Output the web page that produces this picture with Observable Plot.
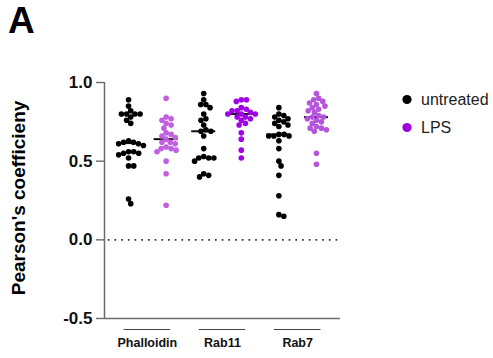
<!DOCTYPE html>
<html><head><meta charset="utf-8">
<script src="https://cdn.jsdelivr.net/npm/d3@7"></script>
<script src="https://cdn.jsdelivr.net/npm/@observablehq/plot@0.6"></script>
<style>
body{margin:0;background:#fff;}
#wrap{position:relative;width:493px;height:358px;}
#overlay{position:absolute;left:0;top:0;pointer-events:none;}
svg text{font-family:"Liberation Sans",Arial,sans-serif;}
#chart g[aria-label^="y-axis"] text{font-size:17px;font-weight:bold;fill:#111;}
#chart g[aria-label^="x-axis"] text{font-size:12.5px;font-weight:bold;fill:#111;}
#chart g[aria-label^="y-axis"] line,#chart g[aria-label^="y-axis"] path{stroke:#6b6b6b;stroke-width:1.4px;}
</style></head><body>
<div id="wrap"><div id="chart"></div>
<svg id="overlay" width="493" height="358">
  <text x="8" y="33" font-size="37" font-weight="bold" fill="#000">A</text>
  <text transform="translate(25,198) rotate(-90)" text-anchor="middle" font-size="19" font-weight="bold" fill="#000">Pearson's coefficieny</text>
  <circle cx="407" cy="99.5" r="4.6" fill="#000"></circle>
  <text x="421" y="104.5" font-size="16" fill="#222">untreated</text>
  <circle cx="407" cy="127.5" r="4.6" fill="#a000e0"></circle>
  <text x="421" y="132.5" font-size="16" fill="#222">LPS</text>
</svg></div>
<script>
const groups = ["Phalloidin", "Rab11", "Rab7"];
const treatments = ["untreated", "LPS"];
const untreatedColor = "#000000";
const lpsColors = ["#c060e0", "#a100e6", "#b455dc"];

const phalloidinUntreated = [0.89,0.85,0.82,0.80,0.80,0.80,0.80,0.78,0.76,0.74,0.63,0.62,0.62,0.61,0.61,0.60,0.56,0.56,0.55,0.55,0.54,0.52,0.47,0.47,0.26,0.23];
const phalloidinLPS = [0.90,0.78,0.77,0.76,0.74,0.73,0.71,0.68,0.67,0.66,0.65,0.64,0.62,0.62,0.61,0.59,0.58,0.58,0.57,0.56,0.50,0.42,0.22];
const rab11Untreated = [0.93,0.89,0.86,0.86,0.84,0.80,0.77,0.76,0.73,0.70,0.69,0.69,0.66,0.58,0.53,0.52,0.52,0.52,0.50,0.42,0.41,0.40];
const rab11LPS = [0.89,0.89,0.88,0.84,0.83,0.82,0.82,0.81,0.80,0.80,0.80,0.78,0.78,0.77,0.76,0.74,0.73,0.68,0.64,0.57,0.52];
const rab7Untreated = [0.84,0.80,0.79,0.78,0.77,0.76,0.75,0.74,0.73,0.72,0.67,0.67,0.66,0.66,0.66,0.63,0.58,0.50,0.47,0.41,0.28,0.16,0.15];
const rab7LPS = [0.93,0.90,0.89,0.88,0.87,0.86,0.85,0.84,0.83,0.82,0.81,0.79,0.78,0.78,0.77,0.76,0.75,0.74,0.72,0.71,0.71,0.70,0.69,0.55,0.48];
const yTicks = [-0.5, 0, 0.5, 1.0];

const series = [[phalloidinUntreated, phalloidinLPS],[rab11Untreated, rab11LPS],[rab7Untreated, rab7LPS]];

// layout
const W = 493, H = 358, mL = 104, mR = 153, mT = 82, mB = 40;
const xDomain = [-0.64, 5.64], yDomain = [-0.5, 1];
const ppx = (W - mL - mR) / (xDomain[1] - xDomain[0]);
const ppy = (H - mT - mB) / (yDomain[1] - yDomain[0]);
const R = 2.8, D = 5.2;

function swarm(values) {
  const order = values.map((v, i) => ({v, i, y: v * ppy})).sort((a, b) => b.v - a.v);
  const placed = [], out = new Array(values.length);
  for (const p of order) {
    const cands = [0];
    for (const q of placed) {
      const dy = Math.abs(q.y - p.y);
      if (dy < D) { const dx = Math.sqrt(D * D - dy * dy); cands.push(q.x + dx, q.x - dx); }
    }
    cands.sort((a, b) => Math.abs(a) - Math.abs(b) || b - a);
    for (const c of cands) {
      if (placed.every(q => (q.x - c) ** 2 + (q.y - p.y) ** 2 >= D * D - 1e-6)) { p.x = c; break; }
    }
    placed.push(p); out[p.i] = p.x;
  }
  return out;
}

const rows = [], medians = [];
groups.forEach((g, gi) => treatments.forEach((t, ti) => {
  const vals = series[gi][ti];
  const col = gi * 2 + ti;
  const offs = swarm(vals);
  const color = ti === 0 ? untreatedColor : lpsColors[gi];
  vals.forEach((v, i) => rows.push({group: g, treatment: t, value: v, x: col + offs[i] / ppx, color}));
  medians.push({group: g, treatment: t, col, median: d3.median(vals)});
}));
const groupRows = groups.map((g, gi) => ({group: g, mid: gi * 2 + 0.5}));

const chart = Plot.plot({
  width: W, height: H, marginLeft: mL, marginRight: mR, marginTop: mT, marginBottom: mB,
  style: {fontFamily: "Liberation Sans, Arial, sans-serif", background: "#fff"},
  x: {domain: xDomain, ticks: groupRows.map(d => d.mid), tickFormat: m => groups[Math.round((m - 0.5) / 2)], tickSize: 0, tickPadding: 20, label: null},
  y: {domain: yDomain, ticks: yTicks, tickFormat: d => d.toFixed(1), tickSize: 8, tickPadding: 4, label: null},
  color: {type: "identity"},
  marks: [
    Plot.ruleY([0], {x1: xDomain[0] + 0.1, x2: xDomain[1], stroke: "#333", strokeWidth: 1.7, strokeDasharray: "1.7,5"}),
    Plot.ruleX([xDomain[0]], {stroke: "#6b6b6b", strokeWidth: 1.5}),
    Plot.ruleY([yDomain[0]], {stroke: "#6b6b6b", strokeWidth: 1.5}),
    Plot.ruleY(groupRows, {y: () => -0.57, x1: d => d.mid - 0.62, x2: d => d.mid + 0.62, stroke: "#444", strokeWidth: 1.2}),
    Plot.ruleY(medians, {y: "median", x1: d => d.col - 0.32, x2: d => d.col + 0.32, stroke: "#111", strokeWidth: 2}),
    Plot.dot(rows, {x: "x", y: "value", r: R, fill: "color", stroke: "none"})
  ]
});
document.getElementById("chart").appendChild(chart);
</script>
</body></html>
